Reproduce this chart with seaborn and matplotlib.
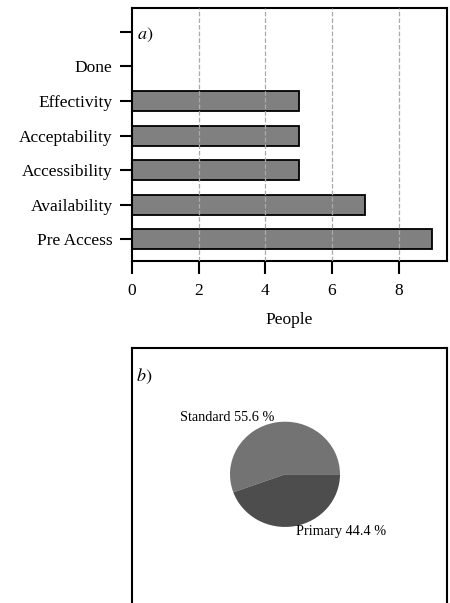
import numpy as np
import pandas as pd
import seaborn as sns
import matplotlib
matplotlib.use("Agg")
import matplotlib.pyplot as plt

# Datos del grafico a) (de arriba hacia abajo)
categorias = ["", "Done", "Effectivity", "Acceptability", "Accessibility", "Availability", "Pre Access"]
personas = [0, 0, 5, 5, 5, 7, 9]

# Datos del grafico b)
tipos = ["Standard", "Primary"]
conteo = [5, 4]
colores_pie = ["#737373", "#4d4d4d"]

sns.set_style("ticks")
plt.rcParams["font.family"] = ["Liberation Serif", "DejaVu Serif"]
plt.rcParams["mathtext.fontset"] = "stix"
for k in ["text.color", "axes.edgecolor", "axes.labelcolor", "xtick.color", "ytick.color"]:
    plt.rcParams[k] = "black"

fig = plt.figure(figsize=(4.5, 6.03), dpi=100)

# a) barras horizontales
ax1 = fig.add_axes([132 / 450, 1 - 261 / 603, 315 / 450, 253 / 603])
df = pd.DataFrame({"cat": categorias, "people": personas})
sns.barplot(data=df, x="people", y="cat", order=categorias, color="#808080",
            saturation=1, edgecolor="black", linewidth=1.3, width=0.58, ax=ax1)
ax1.set_xlim(0, 9.45)
ax1.set_ylim(len(categorias) - 1 + 0.63, -0.69)
ax1.set_xticks([0, 2, 4, 6, 8])
ax1.set_xlabel("People", fontsize=12.5, labelpad=9)
ax1.set_ylabel("")
for x in [2, 4, 6, 8]:
    ax1.axvline(x, color="#aaaaaa", linestyle="--", linewidth=0.9, zorder=5)
for s in ax1.spines.values():
    s.set_linewidth(1.5)
    s.set_visible(True)
ax1.tick_params(axis="both", length=9, width=1.5, labelsize=12.5, pad=5)
ax1.tick_params(axis="x", pad=7)
ax1.text(0.016, 0.893, r"$a)$", transform=ax1.transAxes, fontsize=13, va="center")

# b) pastel
ax2 = fig.add_axes([132 / 450, -12 / 603, 315 / 450, 267 / 603])
total = sum(conteo)
etiquetas = [f"{t} {100 * c / total:.1f} %" for t, c in zip(tipos, conteo)]
ax2.pie(conteo, labels=etiquetas, colors=colores_pie, startangle=0,
        wedgeprops={"linewidth": 0}, textprops={"fontsize": 10.3})
ax2.set_aspect("auto")
ax2.set_xlim(-153 / 55, 162 / 55)
ax2.set_ylim(-147 / 55, 132 / 55)
ax2.set_frame_on(True)
for s in ax2.spines.values():
    s.set_linewidth(1.5)
    s.set_visible(True)
ax2.set_xticks([])
ax2.set_yticks([])
ax2.text(0.012, 0.895, r"$b)$", transform=ax2.transAxes, fontsize=13, va="center")

fig.savefig("out.png", dpi=100)
